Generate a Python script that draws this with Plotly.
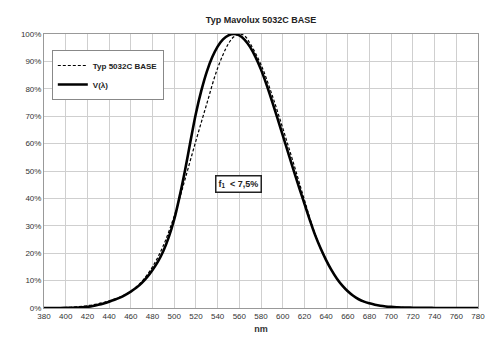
import plotly.graph_objects as go

# CIE V(lambda) photopic, 5 nm
v_nm = list(range(380, 785, 5))
v_val = [0.000039, 0.000064, 0.00012, 0.000217, 0.000396, 0.00064, 0.00121, 0.00218, 0.004, 0.0073,
         0.0116, 0.01684, 0.023, 0.0298, 0.038, 0.048, 0.06, 0.0739, 0.09098, 0.1126,
         0.13902, 0.1693, 0.20802, 0.2586, 0.323, 0.4073, 0.503, 0.6082, 0.71, 0.7932,
         0.862, 0.91485, 0.954, 0.9803, 0.99495, 1.0, 0.995, 0.9786, 0.952, 0.9154,
         0.87, 0.8163, 0.757, 0.6949, 0.631, 0.5668, 0.503, 0.4412, 0.381, 0.321,
         0.265, 0.217, 0.175, 0.1382, 0.107, 0.0816, 0.061, 0.04458, 0.032, 0.0232,
         0.017, 0.01192, 0.00821, 0.005723, 0.004102, 0.002929, 0.002091, 0.001484, 0.001047, 0.00074,
         0.00052, 0.000361, 0.000249, 0.000172, 0.00012, 0.000085, 0.00006, 0.000042, 0.00003, 0.000021,
         0.000015]

# Typ 5032C BASE
s_nm = [380, 390, 400, 410, 420, 430, 440, 450, 460, 470, 480, 490, 500, 505, 510, 520, 530, 540,
        550, 555, 560, 565, 570, 580, 590, 600, 610, 620, 630, 640, 650, 660, 670, 680, 690, 700,
        720, 750, 780]
s_val = [0.0002, 0.0006, 0.0018, 0.0045, 0.0085, 0.0155, 0.026, 0.040, 0.061, 0.096, 0.150, 0.228,
         0.335, 0.40, 0.47, 0.61, 0.745, 0.875, 0.965, 0.99, 1.0, 0.993, 0.965, 0.888, 0.78, 0.657,
         0.528, 0.395, 0.268, 0.176, 0.107, 0.061, 0.032, 0.017, 0.008, 0.004, 0.001, 0.0001, 0.0]

font = "Liberation Sans, Arial, sans-serif"

fig = go.Figure()
fig.add_trace(go.Scatter(x=s_nm, y=[v * 100 for v in s_val], mode="lines", line_shape="spline",
                         name="<b>Typ 5032C BASE</b>",
                         line=dict(color="black", width=1.2, dash="3px,2px")))
fig.add_trace(go.Scatter(x=v_nm, y=[v * 100 for v in v_val], mode="lines", line_shape="spline",
                         name="<b>V(λ)</b>", line=dict(color="black", width=2.6)))

fig.update_layout(
    width=500, height=353,
    margin=dict(l=44, r=22, t=34, b=45),
    paper_bgcolor="white", plot_bgcolor="white",
    font=dict(family=font, size=8, color="#333"),
    title=dict(text="<b>Typ Mavolux 5032C BASE</b>", x=261 / 500, xanchor="center",
               y=1 - 20 / 353, yanchor="middle", font=dict(size=9, color="#222")),
    showlegend=True,
    legend=dict(x=0.018, y=(308 - 75) / 274, xanchor="left", yanchor="middle", bgcolor="white",
                bordercolor="#888", borderwidth=1, font=dict(size=8, color="#222"),
                tracegroupgap=0, itemwidth=30),
    xaxis=dict(range=[380, 780], dtick=20, tick0=380, showgrid=True, gridcolor="#cfcfcf",
               gridwidth=1, showline=True, linecolor="#999", mirror=True, zeroline=False,
               ticks="", tickfont=dict(size=8, color="#333"),
               title=dict(text="<b>nm</b>", font=dict(size=9, color="#333"), standoff=6)),
    yaxis=dict(range=[0, 100], dtick=10, showgrid=True, gridcolor="#cfcfcf", gridwidth=1,
               showline=True, linecolor="#999", mirror=True, zeroline=False, ticks="",
               ticksuffix="%", tickfont=dict(size=8, color="#333")),
)

fig.add_annotation(x=559, y=45.3, xref="x", yref="y",
                   text="<b>f<sub>1</sub>  < 7,5%</b>", showarrow=False,
                   font=dict(size=9, color="#222"), bgcolor="white",
                   bordercolor="#222", borderwidth=1.5, borderpad=2)

fig.write_html("out.html")
